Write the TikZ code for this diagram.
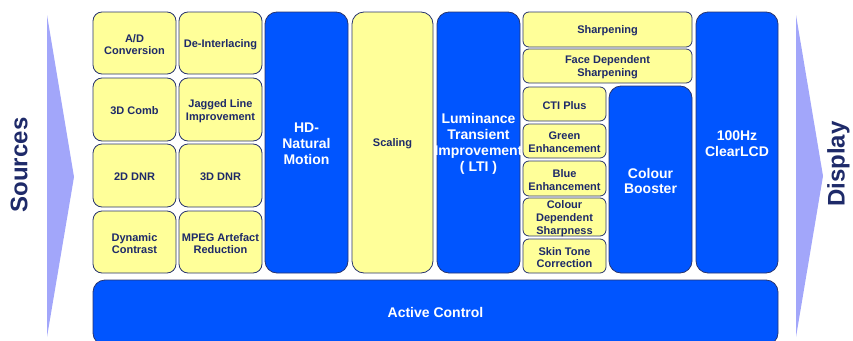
\documentclass[tikz,border=0pt]{standalone}
\usepackage{fontspec}
\setmainfont{Liberation Sans}
\begin{document}
\begin{tikzpicture}[x=1pt,y=-1pt,
  box/.style={draw=boxline, line width=0.8pt, inner sep=0pt, outer sep=0pt},
  ybox/.style={box, fill=boxyellow},
  bbox/.style={box, fill=boxblue},
  ytext/.style={text=textnavy, align=center, inner sep=0pt, font=\bfseries\fontsize{11}{12.7}\selectfont},
  btext/.style={text=white, align=center, inner sep=0pt, font=\bfseries\fontsize{14}{15.8}\selectfont},
  flow/.style={fill=flowblue, draw=none},
  side/.style={text=textnavy, font=\bfseries\fontsize{24}{26}\selectfont, rotate=90, inner sep=0pt}
]
\definecolor{boxyellow}{RGB}{255,255,153}
\definecolor{boxblue}{RGB}{0,85,255}
\definecolor{boxline}{RGB}{40,52,110}
\definecolor{textnavy}{RGB}{30,42,105}
\definecolor{flowblue}{RGB}{162,166,250}
\useasboundingbox (0,0) rectangle (853,340);
\clip (0,0) rectangle (853,340);

% block by corners: #1 shape style, #2 name, #3 x1, #4 x2, #5 y1, #6 y2,
% #7 corner radius, #8 text style, #9 text
\newcommand{\blk}[9]{%
  \node[#1, rounded corners=#7pt, minimum width={#4-#3}, minimum height={#6-#5}]
    (#2) at ({(#3+#4)/2},{(#5+#6)/2}) {};
  \node[#8, yshift=-1.5pt] (#2-t) at (#2.center) {#9};}

% input and output flow arrows
\coordinate (srcT) at (47,15);  \coordinate (srcP) at (74,177);  \coordinate (srcB) at (47,337);
\coordinate (dspT) at (796,15); \coordinate (dspP) at (823,176); \coordinate (dspB) at (796,337);
\fill[flow] (srcT) -- (srcP) -- (srcB) -- cycle;
\fill[flow] (dspT) -- (dspP) -- (dspB) -- cycle;
\node[side] (sources) at (19,165) {Sources};
\node[side] (display) at (838.5,164) {Display};

% front-end processing blocks
\blk{ybox}{ad}{93}{176}{12}{74}{9}{ytext}{A/D\\Conversion}
\blk{ybox}{deint}{179}{262}{12}{74}{9}{ytext}{De-Interlacing}
\blk{ybox}{comb}{93}{176}{78}{141}{9}{ytext}{3D Comb}
\blk{ybox}{jag}{179}{262}{78}{141}{9}{ytext}{Jagged Line\\Improvement}
\blk{ybox}{dnrtwo}{93}{176}{144}{207}{9}{ytext}{2D DNR}
\blk{ybox}{dnrthree}{179}{262}{144}{207}{9}{ytext}{3D DNR}
\blk{ybox}{dyn}{93}{176}{211}{273}{9}{ytext}{Dynamic\\Contrast}
\blk{ybox}{mpeg}{179}{262}{211}{273}{9}{ytext}{MPEG Artefact\\Reduction}

% full-height stages
\blk{bbox}{hd}{265}{348}{12}{273}{12}{btext}{HD-\\Natural\\Motion}
\blk{ybox}{scal}{352}{433}{12}{273}{12}{ytext}{Scaling}
\blk{bbox}{lti}{437}{520}{12}{273}{12}{btext}{Luminance\\Transient\\Improvement\\( LTI )}

% sharpness and colour stages
\blk{ybox}{sharp}{523}{692}{12}{47}{6}{ytext}{Sharpening}
\blk{ybox}{face}{523}{692}{49}{83}{6}{ytext}{Face Dependent\\Sharpening}
\blk{ybox}{cti}{523}{606}{87}{121}{6}{ytext}{CTI Plus}
\blk{ybox}{green}{523}{606}{124}{158}{6}{ytext}{Green\\Enhancement}
\blk{ybox}{blue}{523}{606}{161}{196}{6}{ytext}{Blue\\Enhancement}
\blk{ybox}{cds}{523}{606}{198}{236}{6}{ytext}{Colour\\Dependent\\Sharpness}
\blk{ybox}{skin}{523}{606}{239}{273}{6}{ytext}{Skin Tone\\Correction}
\blk{bbox}{boost}{609}{692}{86}{273}{12}{btext}{Colour\\Booster}
\blk{bbox}{lcd}{696}{778}{12}{273}{12}{btext}{100Hz\\ClearLCD}

% control layer spanning all stages
\node[bbox, rounded corners=12pt, minimum width=685, minimum height=65] (act) at (435.5,312.5) {};
\node[btext] (act-t) at (435.5,312.5) {Active Control};
\end{tikzpicture}
\end{document}
